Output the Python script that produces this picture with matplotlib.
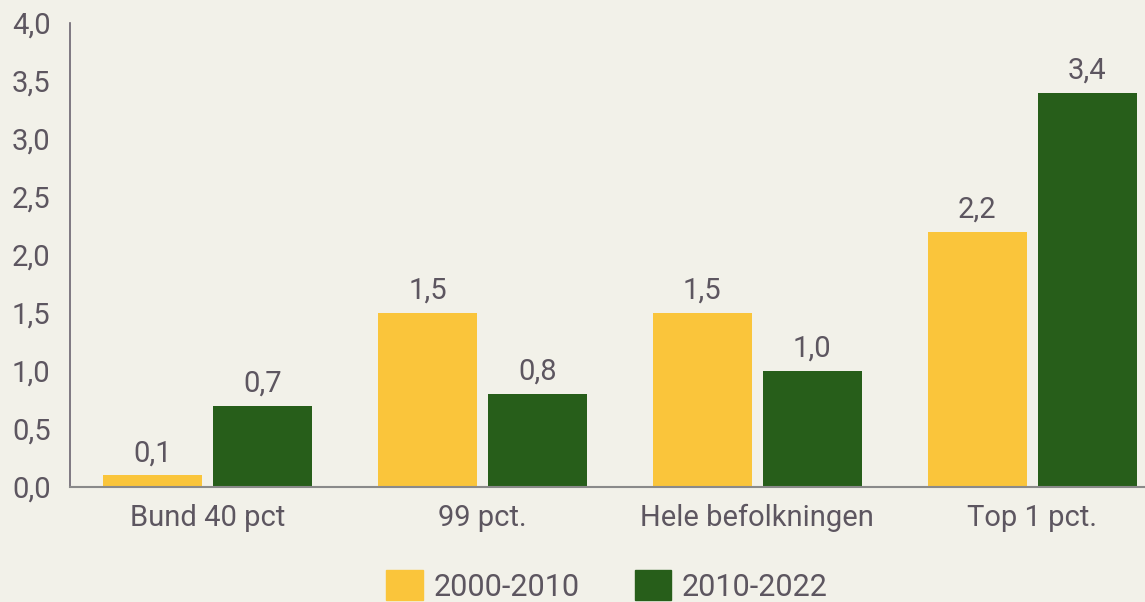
import matplotlib
matplotlib.use("Agg")
import matplotlib.pyplot as plt
import numpy as np
from matplotlib.patches import Patch

categories = ["Bund 40 pct", "99 pct.", "Hele befolkningen", "Top 1 pct."]
series_names = ["2000-2010", "2010-2022"]
values_2000_2010 = [0.1, 1.5, 1.5, 2.2]
values_2010_2022 = [0.7, 0.8, 1.0, 3.4]
yticks = [0.0, 0.5, 1.0, 1.5, 2.0, 2.5, 3.0, 3.5, 4.0]

bg = "#f2f1e9"
yellow = "#fac53b"
green = "#275e1a"
txt = "#5d5660"

plt.rcParams['font.family'] = ['Roboto', 'DejaVu Sans']

W, H = 1145, 602
fig = plt.figure(figsize=(W/100, H/100), dpi=100, facecolor=bg)
ax = fig.add_axes([70/W, 1-487/H, (W-70)/W, (487-23)/H], facecolor=bg)

x = np.arange(len(categories))
bw = 0.36
off = 0.2
b1 = ax.bar(x - off, values_2000_2010, bw, color=yellow)
b2 = ax.bar(x + off, values_2010_2022, bw, color=green)

for bars, vals in ((b1, values_2000_2010), (b2, values_2010_2022)):
    for r, v in zip(bars, vals):
        ax.text(r.get_x() + r.get_width()/2, v + 0.07, f"{v:.1f}".replace(".", ","),
                ha="center", va="bottom", fontsize=21, color=txt)

ax.set_xlim(-0.5, 3.41)
ax.set_ylim(0, 4.0)
ax.set_yticks(yticks)
ax.set_yticklabels([f"{t:.1f}".replace(".", ",") for t in yticks])
ax.set_xticks(x)
ax.set_xticklabels(categories)
ax.tick_params(axis="both", length=0, labelsize=21, colors=txt)
ax.tick_params(axis="y", pad=14)
ax.tick_params(axis="x", pad=12)
for s in ["top", "right"]:
    ax.spines[s].set_visible(False)
ax.spines["left"].set_color("#6b6470")
ax.spines["left"].set_linewidth(1.2)
ax.spines["bottom"].set_color("#8a8a8a")
ax.spines["bottom"].set_linewidth(1.5)

handles = [Patch(color=yellow), Patch(color=green)]
fig.legend(handles, series_names, loc="center", bbox_to_anchor=(607/W, 1-586/H),
           ncol=2, frameon=False, fontsize=22, labelcolor=txt,
           handlelength=1.2, handleheight=1.1, handletextpad=0.35, columnspacing=1.8,
           borderpad=0.1)

fig.savefig("out.png", dpi=100, facecolor=bg)
